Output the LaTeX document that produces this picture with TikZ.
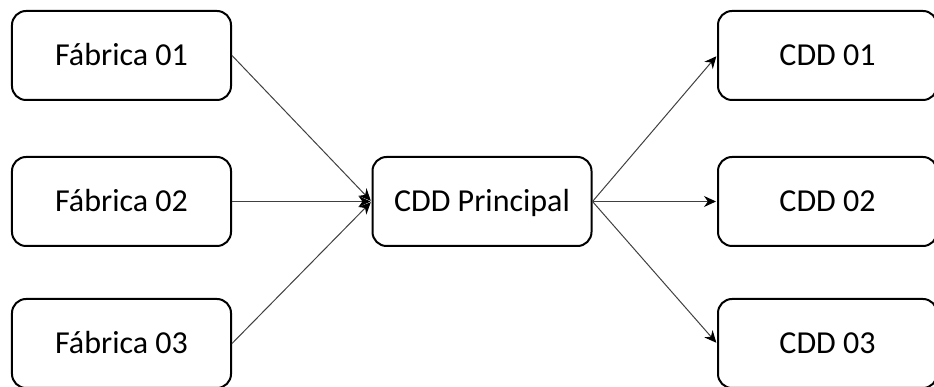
\documentclass[tikz,border=0pt]{standalone}
\usepackage{fontspec}
\setmainfont{Carlito}
\usetikzlibrary{arrows.meta}

\begin{document}
\begin{tikzpicture}[shorten >=1pt,node distance=146pt,
    box node/.style={draw,line width=2pt,rounded corners=14pt,minimum width=219pt,minimum height=89pt,text height=20.6pt,text depth=0pt,font=\fontsize{32}{38}\selectfont},
    flow/.style={-{Stealth[length=12pt,width=11pt,color=black]},line width=1pt,draw=black!75}]
            \useasboundingbox (-121.5pt,201.5pt) rectangle (812.5pt,-185.5pt);

            \node[box node] (f2) at (0,0) {Fábrica 02};
            \node[box node] (f1) [above of = f2]{Fábrica 01};
            \node[box node] (f3) [below of = f2, yshift = 4pt]{Fábrica 03};

            \node[box node] (cdd) [right of = f2, xshift = 214.5pt]{CDD Principal};

            \node[box node] (c2) [right of = cdd, xshift = 199.5pt]{CDD 02};
            \node[box node] (c1) [above of = c2]{CDD 01};
            \node[box node] (c3) [below of = c2, yshift = 4pt]{CDD 03};

            \path[every edge/.style={draw,flow}]
                (f1.east) edge (cdd.west)
                (f2.east) edge (cdd.west)
                (f3.east) edge (cdd.west)
                (cdd.east) edge (c1.west)
                (cdd.east) edge (c2.west)
                (cdd.east) edge (c3.west)
                ;
        \end{tikzpicture}
\end{document}
